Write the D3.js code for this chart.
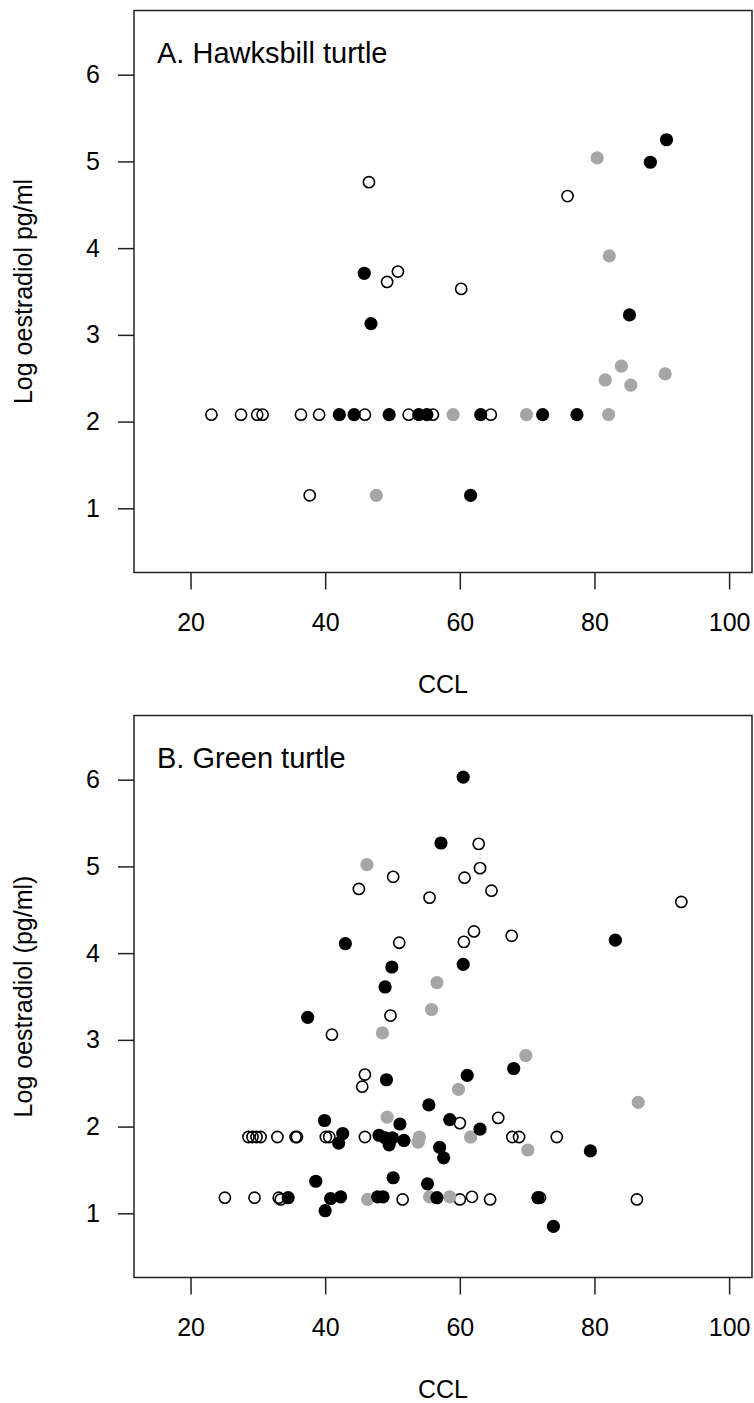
<!DOCTYPE html>
<html>
<head>
<meta charset="utf-8">
<script src="https://cdn.jsdelivr.net/npm/d3@7"></script>
<style>
  html, body { margin: 0; padding: 0; background: #fff; }
  svg { display: block; font-family: "Liberation Sans", Arial, sans-serif; }
</style>
</head>
<body>
<svg id="chart" width="754" height="1403"></svg>
<script>
// ---------- DATA ----------
const xTicks = [20, 40, 60, 80, 100];
const yTicks = [1, 2, 3, 4, 5, 6];

// Panel A: Hawksbill turtle  [CCL, log oestradiol]
const hawksbillOpen = [
  [23.1,2.08],[27.5,2.08],[29.9,2.08],[30.7,2.08],[36.4,2.08],[39.1,2.08],[45.9,2.08],
  [52.4,2.08],[56.0,2.08],[64.6,2.08],[37.7,1.15],[46.5,4.76],[50.8,3.73],[49.2,3.61],
  [60.2,3.53],[76.0,4.60]
];
const hawksbillGrey = [
  [59.0,2.08],[69.9,2.08],[82.1,2.08],[47.6,1.15],[80.4,5.04],[82.2,3.91],[84.0,2.64],
  [81.6,2.48],[85.4,2.42],[90.5,2.55]
];
const hawksbillBlack = [
  [42.1,2.08],[44.3,2.08],[49.5,2.08],[53.9,2.08],[55.1,2.08],[63.1,2.08],[72.3,2.08],
  [77.4,2.08],[61.6,1.15],[45.8,3.71],[46.8,3.13],[85.2,3.23],[88.3,4.99],[90.7,5.25]
];

// Panel B: Green turtle  [CCL, log oestradiol]
const greenOpen = [
  [28.6,1.88],[29.2,1.88],[29.8,1.88],[30.4,1.88],[32.9,1.88],[35.6,1.88],[35.8,1.88],
  [40.1,1.88],[40.6,1.88],[45.9,1.88],[67.8,1.88],[68.8,1.88],[74.4,1.88],
  [25.1,1.18],[29.5,1.18],[33.1,1.18],[33.4,1.16],[51.5,1.16],[60.0,1.16],[61.8,1.19],
  [64.5,1.16],[71.9,1.18],[86.3,1.16],
  [45.9,2.60],[45.5,2.46],[65.7,2.10],[60.0,2.04],[41.0,3.06],[49.7,3.28],[62.8,5.26],
  [63.0,4.98],[50.1,4.88],[60.7,4.87],[45.0,4.74],[64.7,4.72],[55.5,4.64],[92.9,4.59],
  [62.1,4.25],[67.7,4.20],[51.0,4.12],[60.6,4.13]
];
const greenGrey = [
  [46.2,5.02],[56.6,3.66],[55.8,3.35],[48.5,3.08],[69.8,2.82],[59.8,2.43],[86.5,2.28],
  [49.2,2.11],[61.6,1.88],[54.0,1.88],[53.8,1.82],[70.1,1.73],[46.3,1.16],[55.5,1.19],
  [58.5,1.19]
];
const greenBlack = [
  [60.5,6.03],[57.2,5.27],[83.1,4.15],[43.0,4.11],[49.9,3.84],[60.5,3.87],[48.9,3.61],
  [37.4,3.26],[49.1,2.54],[61.1,2.59],[68.0,2.67],[55.4,2.25],[39.9,2.07],[51.1,2.03],
  [58.5,2.08],[63.0,1.97],[42.6,1.92],[42.0,1.81],[48.0,1.90],[48.9,1.87],[50.0,1.87],
  [49.5,1.79],[51.7,1.84],[57.0,1.76],[57.6,1.64],[79.4,1.72],[34.5,1.18],[38.6,1.37],
  [40.8,1.17],[42.3,1.19],[40.0,1.03],[47.8,1.19],[48.6,1.19],[50.1,1.41],[55.2,1.34],
  [56.6,1.18],[71.6,1.18],[73.9,0.85]
];

const panels = [
  { title: "A. Hawksbill turtle", ylab: "Log oestradiol pg/ml", top: 10.5,
    open: hawksbillOpen, grey: hawksbillGrey, black: hawksbillBlack },
  { title: "B. Green turtle", ylab: "Log oestradiol (pg/ml)", top: 715.5,
    open: greenOpen, grey: greenGrey, black: greenBlack }
];

// ---------- DRAW ----------
const svg = d3.select("#chart");
const left = 134, right = 752, plotH = 562;
const xDomain = [11.6, 103.4], yDomain = [0.26, 6.74];
const fontTick = 25, fontTitle = 29;

panels.forEach(p => {
  const top = p.top, bottom = top + plotH;
  const x = d3.scaleLinear().domain(xDomain).range([left, right]);
  const y = d3.scaleLinear().domain(yDomain).range([bottom, top]);
  const g = svg.append("g");

  // axes
  const ax = g.append("g").attr("transform", `translate(0,${bottom})`)
    .call(d3.axisBottom(x).tickValues(xTicks).tickSize(17).tickPadding(24).tickFormat(d3.format("d")));
  ax.select(".domain").remove();
  ax.selectAll("line").attr("stroke", "#222").attr("stroke-width", 1.5);
  ax.selectAll("text").attr("font-size", fontTick).attr("fill", "#000")
    .attr("font-family", "Liberation Sans, Arial, sans-serif");

  const ay = g.append("g").attr("transform", `translate(${left},0)`)
    .call(d3.axisLeft(y).tickValues(yTicks).tickSize(16).tickPadding(18).tickFormat(d3.format("d")));
  ay.select(".domain").remove();
  ay.selectAll("line").attr("stroke", "#222").attr("stroke-width", 1.5);
  ay.selectAll("text").attr("font-size", fontTick).attr("fill", "#000")
    .attr("font-family", "Liberation Sans, Arial, sans-serif");

  // box
  g.append("rect").attr("x", left).attr("y", top).attr("width", right - left).attr("height", plotH)
    .attr("fill", "none").attr("stroke", "#222").attr("stroke-width", 1.5);

  // labels
  g.append("text").attr("x", (left + right) / 2).attr("y", bottom + 120)
    .attr("text-anchor", "middle").attr("font-size", fontTick).text("CCL");
  g.append("text").attr("transform", `translate(32,${(top + bottom) / 2}) rotate(-90)`)
    .attr("text-anchor", "middle").attr("font-size", fontTick).text(p.ylab);
  g.append("text").attr("x", 157).attr("y", y(6.25) + 10)
    .attr("font-size", fontTitle).text(p.title);

  // points
  g.selectAll(".open").data(p.open).join("circle")
    .attr("cx", d => x(d[0])).attr("cy", d => y(d[1])).attr("r", 5.6)
    .attr("fill", "none").attr("stroke", "#000").attr("stroke-width", 1.6);
  g.selectAll(".grey").data(p.grey).join("circle")
    .attr("cx", d => x(d[0])).attr("cy", d => y(d[1])).attr("r", 6.6)
    .attr("fill", "#a6a6a6");
  g.selectAll(".black").data(p.black).join("circle")
    .attr("cx", d => x(d[0])).attr("cy", d => y(d[1])).attr("r", 6.6)
    .attr("fill", "#000");
});
</script>
</body>
</html>
